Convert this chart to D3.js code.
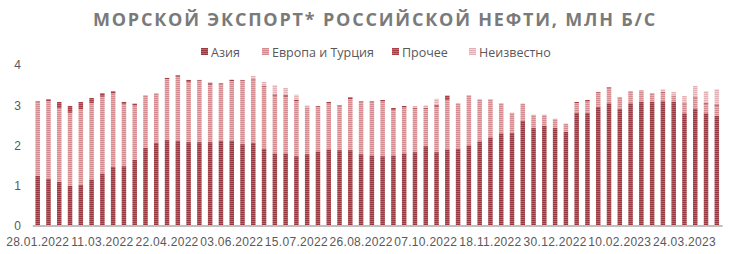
<!DOCTYPE html>
<html>
<head>
<meta charset="utf-8">
<script src="https://cdn.jsdelivr.net/npm/d3@7"></script>
<style>
  body { margin: 0; background: #fff; }
  svg { display: block; font-family: "Open Sans", "Liberation Sans", sans-serif; }
  .axis text { fill: #595959; font-size: 12px; }
</style>
</head>
<body>
<svg id="chart" width="731" height="254"></svg>
<script>
const startDate = new Date(2022, 0, 28);
const seriesNames = ["Азия", "Европа и Турция", "Прочее", "Неизвестно"];
const yTicks = [0, 1, 2, 3, 4];

// totals per week, млн б/с
const total = [3.10, 3.15, 3.08, 2.98, 3.08, 3.18, 3.30, 3.35, 3.08, 3.04,
  3.24, 3.29, 3.68, 3.75, 3.63, 3.63, 3.56, 3.55, 3.65, 3.63,
  3.73, 3.58, 3.50, 3.43, 3.26, 3.00, 2.98, 3.08, 3.00, 3.20,
  3.10, 3.10, 3.13, 2.93, 2.98, 2.98, 3.00, 3.16, 3.24, 3.04,
  3.24, 3.14, 3.14, 3.04, 2.81, 3.04, 2.76, 2.76, 2.66, 2.54,
  3.08, 3.13, 3.33, 3.45, 3.20, 3.35, 3.38, 3.30, 3.40, 3.33,
  3.23, 3.48, 3.35, 3.40];
const asia = [1.24, 1.16, 1.09, 0.99, 1.02, 1.15, 1.30, 1.46, 1.48, 1.64,
  1.94, 2.06, 2.13, 2.11, 2.08, 2.08, 2.08, 2.11, 2.11, 2.03,
  2.06, 1.92, 1.80, 1.80, 1.73, 1.78, 1.85, 1.90, 1.88, 1.88,
  1.78, 1.75, 1.73, 1.75, 1.80, 1.83, 1.98, 1.83, 1.90, 1.92,
  2.00, 2.10, 2.20, 2.30, 2.31, 2.61, 2.43, 2.49, 2.43, 2.34,
  2.81, 2.81, 2.96, 3.05, 2.91, 3.05, 3.09, 3.09, 3.10, 3.08,
  2.80, 2.92, 2.80, 2.74];
const other = [0.02, 0.05, 0.16, 0.17, 0.18, 0.13, 0.09, 0.06, 0.05, 0.05,
  0.02, 0.02, 0.03, 0.04, 0.06, 0.02, 0.05, 0.03, 0.03, 0.02,
  0.03, 0.03, 0.04, 0.05, 0.04, 0.00, 0.02, 0.04, 0.03, 0.05,
  0.02, 0.02, 0.04, 0.05, 0.04, 0.03, 0.03, 0.05, 0.11, 0.01,
  0.01, 0.01, 0.01, 0.01, 0.00, 0.00, 0.00, 0.00, 0.00, 0.00,
  0.03, 0.04, 0.02, 0.03, 0.01, 0.01, 0.01, 0.01, 0.02, 0.02,
  0.03, 0.03, 0.03, 0.04];
const unknown = [0, 0, 0, 0, 0, 0, 0, 0, 0, 0,
  0, 0, 0, 0, 0, 0, 0, 0, 0.02, 0,
  0.08, 0.09, 0.23, 0.17, 0.12, 0.05, 0, 0, 0, 0,
  0, 0, 0, 0, 0, 0.04, 0.06, 0.15, 0, 0,
  0, 0, 0, 0, 0, 0, 0, 0, 0, 0,
  0, 0, 0, 0, 0, 0, 0.03, 0, 0.07, 0.09,
  0.18, 0.28, 0.29, 0.38];
const europe = total.map((t, i) => +(t - asia[i] - other[i] - unknown[i]).toFixed(2));

const fmt = d3.timeFormat("%d.%m.%Y");
const weeks = total.map((d, i) => fmt(d3.timeDay.offset(startDate, i * 7)));

const rows = weeks.map((w, i) => ({
  week: w, "Азия": asia[i], "Европа и Турция": europe[i], "Прочее": other[i], "Неизвестно": unknown[i]
}));

// [stripe dark, stripe light]
const colors = {
  "Азия": ["#983840", "#b9656b"],
  "Европа и Турция": ["#d48b90", "#e7b2b5"],
  "Прочее": ["#a83f47", "#c46a70"],
  "Неизвестно": ["#e3b1b5", "#f1d2d4"]
};

const svg = d3.select("#chart");
const defs = svg.append("defs");
seriesNames.forEach((s, i) => {
  const p = defs.append("pattern")
    .attr("id", "pat" + i)
    .attr("patternUnits", "userSpaceOnUse")
    .attr("width", 4).attr("height", 2);
  p.append("rect").attr("width", 4).attr("height", 2).attr("fill", colors[s][1]);
  p.append("rect").attr("width", 4).attr("height", 1).attr("fill", colors[s][0]);
});

const x = d3.scaleBand()
  .domain(weeks)
  .range([32.3, 722.2])
  .paddingInner(0.58)
  .paddingOuter(0.29);
const y = d3.scaleLinear().domain([0, 4]).range([225.5, 65.1]);

const stack = d3.stack().keys(seriesNames)(rows);

svg.append("g")
  .selectAll("g")
  .data(stack)
  .join("g")
  .attr("fill", (d, i) => "url(#pat" + i + ")")
  .selectAll("rect")
  .data(d => d)
  .join("rect")
  .attr("x", d => x(d.data.week))
  .attr("width", x.bandwidth())
  .attr("y", d => y(d[1]))
  .attr("height", d => Math.max(0, y(d[0]) - y(d[1])));

// x axis
const xAxis = svg.append("g")
  .attr("class", "axis")
  .attr("transform", "translate(0," + y(0) + ")")
  .call(d3.axisBottom(x).tickValues(weeks.filter((d, i) => i % 6 === 0)).tickSize(0).tickPadding(12));
xAxis.select(".domain").attr("stroke", "#bfbfbf").attr("stroke-width", 2);
xAxis.selectAll("text").attr("font-size", 12).attr("letter-spacing", 0.3);

// y axis
const yAxis = svg.append("g")
  .attr("class", "axis")
  .attr("transform", "translate(21,0)")
  .call(d3.axisLeft(y).tickValues(yTicks).tickFormat(d3.format("d")).tickSize(0).tickPadding(0));
yAxis.select(".domain").remove();

// title
svg.append("text")
  .attr("x", 375)
  .attr("y", 26)
  .attr("text-anchor", "middle")
  .attr("fill", "#7a7a7a")
  .attr("font-weight", "bold")
  .attr("font-size", 18)
  .attr("letter-spacing", 1.8)
  .text("МОРСКОЙ ЭКСПОРТ* РОССИЙСКОЙ НЕФТИ, МЛН Б/С");

// legend
const legendX = [201, 262, 392, 469];
const lg = svg.append("g").selectAll("g")
  .data(seriesNames)
  .join("g")
  .attr("transform", (d, i) => "translate(" + legendX[i] + ",52)");
lg.append("rect")
  .attr("x", 0).attr("y", -4).attr("width", 7).attr("height", 7)
  .attr("fill", (d, i) => "url(#pat" + i + ")");
lg.append("text")
  .attr("x", 10).attr("y", 4.5)
  .attr("fill", "#595959")
  .attr("font-size", 12.5)
  .text(d => d);
</script>
</body>
</html>
